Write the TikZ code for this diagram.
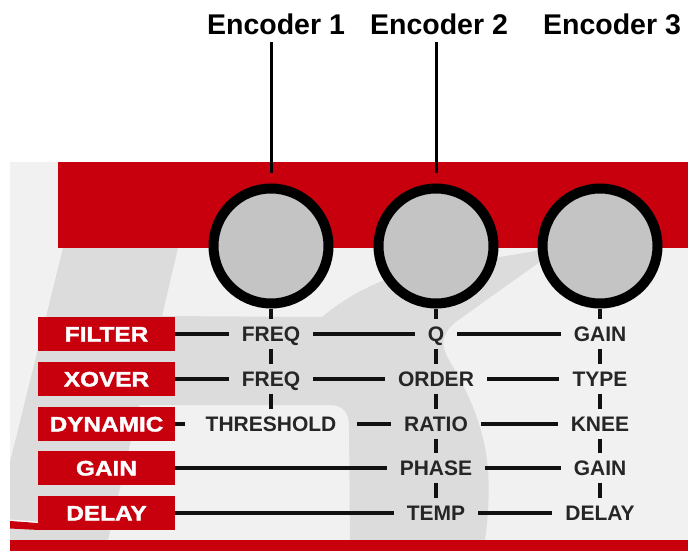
\documentclass[tikz,border=0pt]{standalone}
\usepackage{fontspec}
\setmainfont{Liberation Sans}
% heavier face for the lettering on the red mode buttons
\newfontfamily\buttonfont{Liberation Sans}[BoldFeatures={FakeBold=1.6}]

\definecolor{panelbg}{HTML}{F1F1F1}
\definecolor{swoosh}{HTML}{DCDCDC}
\definecolor{brandred}{HTML}{C8000E}
\definecolor{knobgray}{HTML}{C4C4C4}
\definecolor{labeltext}{HTML}{262626}
\definecolor{wireblack}{HTML}{111111}

% horizontally widened lettering for the red mode buttons
\newcommand\boxword[1]{\scalebox{1.16}[1]{#1}}

\begin{document}
\begin{tikzpicture}[x=1pt,y=-1pt,
  knob/.style={circle, draw=black, line width=10pt, fill=knobgray,
    minimum size=115pt, inner sep=0pt},
  rowbox/.style={rectangle, fill=brandred, minimum width=137pt,
    minimum height=34pt, inner sep=0pt, text=white,
    font=\buttonfont\bfseries\fontsize{21}{21}\selectfont,
    text height=15pt, text depth=0pt},
  cell/.style={inner xsep=13pt, inner ysep=7pt, text=labeltext,
    font=\bfseries\fontsize{21}{21}\selectfont,
    text height=15pt, text depth=0pt},
  enclabel/.style={anchor=base, inner ysep=7pt, text=black,
    font=\bfseries\fontsize{28.5}{28.5}\selectfont, text depth=0pt},
  wire/.style={line width=3.5pt, draw=wireblack},
  encwire/.style={line width=3pt, draw=black}
]
\useasboundingbox (0,0) rectangle (688,551);
\fill[white] (0,0) rectangle (688,551);

% panel background
\fill[panelbg] (10,162) rectangle (688,540);

% large grey watermark figure behind the controls
\fill[swoosh]
  (63,248) -- (178,248) -- (162,316) -- (322,317)
  .. controls (345,298) and (372,282) .. (410,272)
  -- (548,249) -- (548,256)
  -- (457,321)
  .. controls (441,334) and (440,344) .. (449,360)
  .. controls (470,395) and (485,430) .. (488,470)
  .. controls (490,500) and (487,525) .. (485,540)
  -- (350,540) -- (349,425)
  .. controls (349,412) and (342,405) .. (330,405)
  -- (139,405) -- (108,540) -- (10,540) -- (10,462) -- cycle;

% red bars
\fill[brandred] (58,162) rectangle (688,248);
\fill[brandred] (10,540) rectangle (688,551);
\fill[brandred] (10,521) -- (39,523) -- (39,530) -- (10,528.5) -- cycle;
\draw[white, line width=1pt] (10,520) -- (39,522.5);

% encoders
\node[knob] (k1) at (271,246) {};
\node[knob] (k2) at (436,246) {};
\node[knob] (k3) at (600,246) {};

\node[enclabel] (enc1) at (276,35) {Encoder 1};
\node[enclabel] (enc2) at (439,35) {Encoder 2};
\node[enclabel] (enc3) at (612,35) {Encoder 3};

\draw[encwire, shorten >=11pt] (k1 |- enc1.south) -- (k1.north);
\draw[encwire, shorten >=11pt] (k2 |- enc2.south) -- (k2.north);

% mode buttons
\node[rowbox] (filter)  at (106.5,334) {\boxword{FILTER}};
\node[rowbox] (xover)   at (106.5,379) {\boxword{XOVER}};
\node[rowbox] (dynamic) at (106.5,424) {\boxword{DYNAMIC}};
\node[rowbox] (gain)    at (106.5,468) {\boxword{GAIN}};
\node[rowbox] (delay)   at (106.5,513) {\boxword{DELAY}};

% parameter grid
\node[cell] (c11) at (271,334) {FREQ};
\node[cell] (c12) at (436,334) {Q};
\node[cell] (c13) at (600,334) {GAIN};

\node[cell] (c21) at (271,379) {FREQ};
\node[cell] (c22) at (436,379) {ORDER};
\node[cell] (c23) at (600,379) {TYPE};

\node[cell, inner xsep=20pt] (c31) at (271,424) {THRESHOLD};
\node[cell] (c32) at (436,424) {RATIO};
\node[cell] (c33) at (600,424) {KNEE};

\node[cell] (c42) at (436,468) {PHASE};
\node[cell] (c43) at (600,468) {GAIN};

\node[cell] (c52) at (436,513) {TEMP};
\node[cell] (c53) at (600,513) {DELAY};

% row connections
\draw[wire] (filter.east) -- (c11.west);
\draw[wire] (c11.east) -- (c12.west);
\draw[wire] (c12.east) -- (c13.west);

\draw[wire] (xover.east) -- (c21.west);
\draw[wire] (c21.east) -- (c22.west);
\draw[wire] (c22.east) -- (c23.west);

\draw[wire] (dynamic.east) -- (c31.west);
\draw[wire] (c31.east) -- (c32.west);
\draw[wire] (c32.east) -- (c33.west);

\draw[wire] (gain.east) -- (c42.west);
\draw[wire] (c42.east) -- (c43.west);

\draw[wire] (delay.east) -- (c52.west);
\draw[wire] (c52.east) -- (c53.west);

% column connections
\draw[wire] (k1.south) -- (c11.north);
\draw[wire] (c11.south) -- (c21.north);
\draw[wire] (c21.south) -- (c31.north);

\draw[wire] (k2.south) -- (c12.north);
\draw[wire] (c12.south) -- (c22.north);
\draw[wire] (c22.south) -- (c32.north);
\draw[wire] (c32.south) -- (c42.north);
\draw[wire] (c42.south) -- (c52.north);

\draw[wire] (k3.south) -- (c13.north);
\draw[wire] (c13.south) -- (c23.north);
\draw[wire] (c23.south) -- (c33.north);
\draw[wire] (c33.south) -- (c43.north);
\draw[wire] (c43.south) -- (c53.north);
\end{tikzpicture}
\end{document}
